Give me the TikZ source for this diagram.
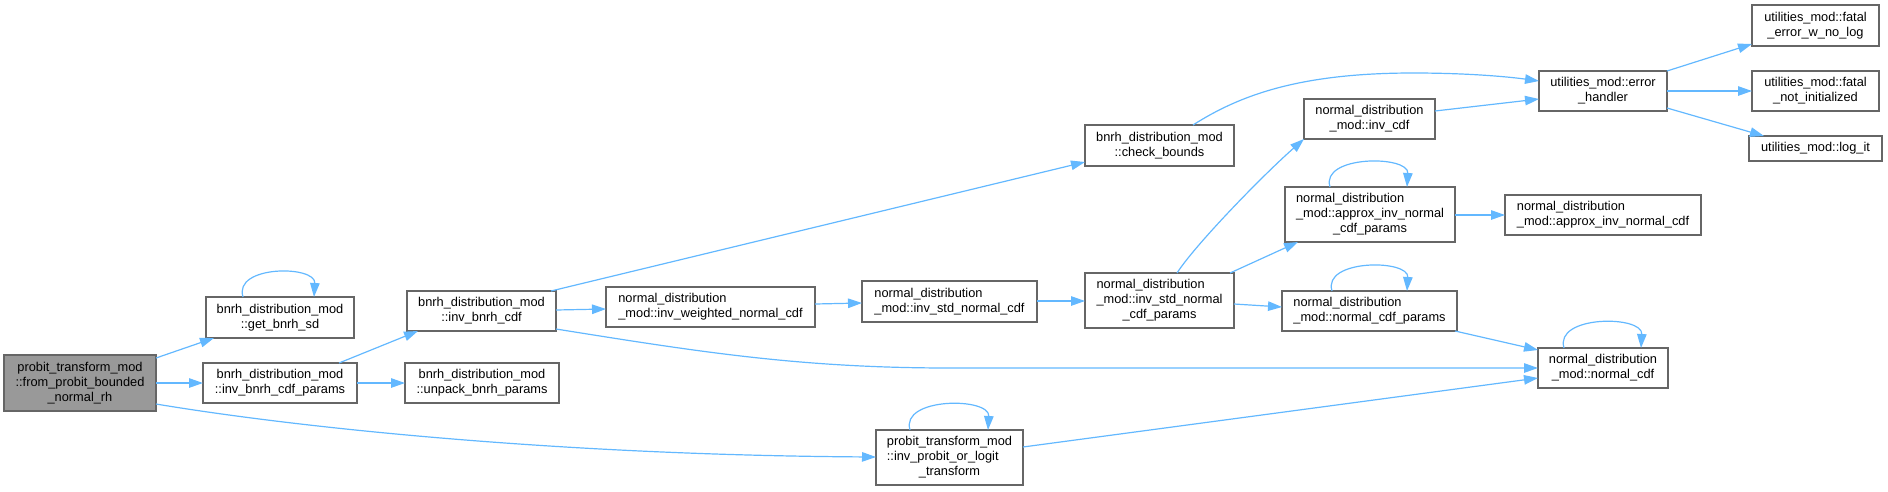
\documentclass[tikz,border=0pt]{standalone}
\usepackage{fontspec}
\setmainfont{Liberation Sans}
\usetikzlibrary{arrows.meta,calc}
\definecolor{edgec}{HTML}{63B8FF}
\definecolor{bord}{HTML}{666666}
\definecolor{fillg}{HTML}{999999}
\newcommand\LL[2]{\sbox0{#2}\makebox[\wd0][l]{#1}}
\begin{document}
\begin{tikzpicture}[x=1pt,y=-1pt,
  box/.style={draw=bord, line width=1.3pt, fill=white, inner sep=0pt, outer sep=0pt,
    anchor=north west, font=\fontsize{12.8}{15}\selectfont, align=center},
  lbox/.style={box, align=left},
  edge/.style={draw=edgec, line width=1.2pt, -{Triangle[length=14pt,width=9.5pt]}}]
\path[use as bounding box] (0,0) rectangle (1888,491);

\node[box, fill=fillg, minimum width=152pt, minimum height=56pt] (probit) at (4,355) {probit\_transform\_mod\\::from\_probit\_bounded\\\_normal\_rh};
\node[box, minimum width=148pt, minimum height=41pt] (sd) at (206,297) {bnrh\_distribution\_mod\\::get\_bnrh\_sd};
\node[box, minimum width=154pt, minimum height=40pt] (params) at (203,363) {bnrh\_distribution\_mod\\::inv\_bnrh\_cdf\_params};
\node[box, minimum width=149pt, minimum height=40pt] (cdf) at (407,291) {bnrh\_distribution\_mod\\::inv\_bnrh\_cdf};
\node[box, minimum width=154pt, minimum height=40pt] (unpack) at (405,363) {bnrh\_distribution\_mod\\::unpack\_bnrh\_params};
\node[lbox, minimum width=209pt, minimum height=40pt] (weighted) at (606,287) {normal\_distribution\\\_mod::inv\_weighted\_normal\_cdf};
\node[lbox, minimum width=175pt, minimum height=41pt] (stdcdf) at (862,281) {normal\_distribution\\\_mod::inv\_std\_normal\_cdf};
\node[box, minimum width=149pt, minimum height=41pt] (check) at (1085,125) {bnrh\_distribution\_mod\\::check\_bounds};
\node[box, minimum width=149pt, minimum height=55pt] (stdparams) at (1085,273) {\LL{normal\_distribution}{\_mod::inv\_std\_normal}\\\_mod::inv\_std\_normal\\\_cdf\_params};
\node[box, minimum width=131pt, minimum height=40pt] (invcdf) at (1304,99) {normal\_distribution\\\_mod::inv\_cdf};
\node[box, minimum width=170pt, minimum height=55pt] (approxp) at (1285,187) {\LL{normal\_distribution}{\_mod::approx\_inv\_normal}\\\_mod::approx\_inv\_normal\\\_cdf\_params};
\node[lbox, minimum width=175pt, minimum height=40pt] (ncdfp) at (1282,291) {normal\_distribution\\\_mod::normal\_cdf\_params};
\node[box, minimum width=147pt, minimum height=55pt] (probitinv) at (876,430) {probit\_transform\_mod\\\LL{::inv\_probit\_or\_logit}{probit\_transform\_mod}\\\_transform};
\node[box, minimum width=128pt, minimum height=40pt] (err) at (1539,71) {utilities\_mod::error\\\_handler};
\node[box, minimum width=127pt, minimum height=41pt] (fatalerr) at (1752,5) {utilities\_mod::fatal\\\_error\_w\_no\_log};
\node[box, minimum width=127pt, minimum height=40pt] (fatalni) at (1752,71) {utilities\_mod::fatal\\\_not\_initialized};
\node[box, minimum width=133pt, minimum height=25pt] (logit) at (1749,136) {utilities\_mod::log\_it};
\node[lbox, minimum width=196pt, minimum height=40pt] (approx) at (1505,195) {normal\_distribution\\\_mod::approx\_inv\_normal\_cdf};
\node[box, minimum width=130pt, minimum height=40pt] (ncdf) at (1538,348) {normal\_distribution\\\_mod::normal\_cdf};

% edges
\draw[edge] ($(probit.north west)+(152,3)$) -- ($(sd.north west)+(8,41)$);
\draw[edge] ($(probit.north west)+(152,28)$) -- ($(params.north west)+(0,20)$);
\draw[edge] ($(probit.north west)+(152,49)$) .. controls (300,428) and (560,455) .. ($(probitinv.north west)+(0,27)$);
\draw[edge] ($(sd.north west)+(37,0)$) .. controls +(-10,-32) and +(2,-32) .. ($(sd.north west)+(108,0)$);
\draw[edge] ($(params.north west)+(136,0)$) -- ($(cdf.north west)+(11,40)$);
\draw[edge] ($(params.north west)+(154,20)$) -- ($(unpack.north west)+(0,20)$);
\draw[edge] ($(cdf.north west)+(149,19)$) -- ($(weighted.north west)+(0,22)$);
\draw[edge] ($(cdf.north west)+(144,0)$) -- ($(check.north west)+(0,37)$);
\draw[edge] ($(cdf.north west)+(149,38)$) .. controls (700,352) and (800,368) .. (950,368) -- ($(ncdf.north west)+(0,20)$);
\draw[edge] ($(weighted.north west)+(209,17)$) -- ($(stdcdf.north west)+(0,22)$);
\draw[edge] ($(stdcdf.north west)+(175,20)$) -- ($(stdparams.north west)+(0,28)$);
\draw[edge] ($(stdparams.north west)+(92,0)$) .. controls (1195,245) and (1262,176) .. (invcdf.south west);
\draw[edge] ($(stdparams.north west)+(145,0)$) -- ($(approxp.north west)+(13,55)$);
\draw[edge] ($(stdparams.north west)+(149,31)$) -- ($(ncdfp.north west)+(0,16)$);
\draw[edge] ($(approxp.north west)+(45,0)$) .. controls +(-10,-32) and +(2,-32) .. ($(approxp.north west)+(122,0)$);
\draw[edge] ($(ncdfp.north west)+(50,0)$) .. controls +(-10,-32) and +(2,-32) .. ($(ncdfp.north west)+(125,0)$);
\draw[edge] ($(ncdfp.north west)+(173,40)$) -- ($(ncdf.north west)+(0,2)$);
\draw[edge] ($(approxp.north west)+(170,28)$) -- ($(approx.north west)+(0,20)$);
\draw[edge] ($(probitinv.north west)+(147,17)$) -- ($(ncdf.north west)+(0,30)$);
\draw[edge] ($(probitinv.north west)+(34,0)$) .. controls +(-10,-33) and +(2,-33) .. ($(probitinv.north west)+(112,0)$);
\draw[edge] ($(ncdf.north west)+(26,0)$) .. controls +(-10,-33) and +(2,-33) .. ($(ncdf.north west)+(103,0)$);
\draw[edge] ($(invcdf.north west)+(131,12)$) -- ($(err.north west)+(0,28)$);
\draw[edge] ($(check.north west)+(108,0)$) .. controls (1240,95) and (1300,73) .. (1413,73) .. controls (1470,73) and (1510,77) .. ($(err.north west)+(0,10)$);
\draw[edge] (err.north east) -- ($(fatalerr.north west)+(0,39)$);
\draw[edge] ($(err.north west)+(128,20)$) -- ($(fatalni.north west)+(0,20)$);
\draw[edge] ($(err.north west)+(128,37)$) -- ($(logit.north west)+(15,0)$);
\end{tikzpicture}
\end{document}
